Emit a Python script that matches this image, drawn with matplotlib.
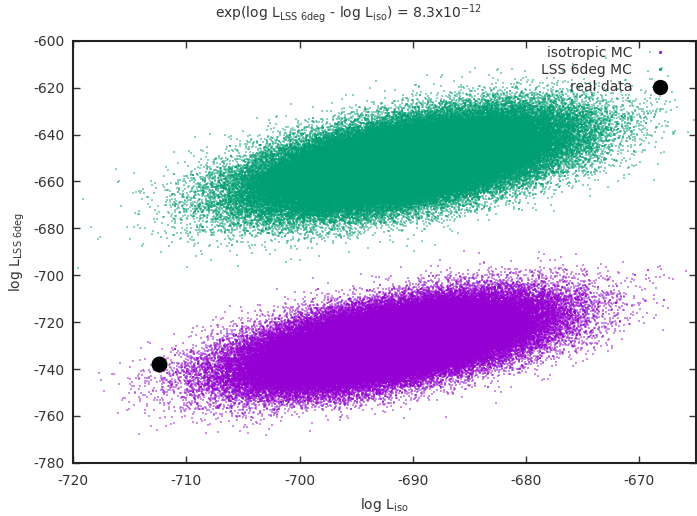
import matplotlib
matplotlib.use("Agg")
import matplotlib.pyplot as plt
from matplotlib.lines import Line2D
import numpy as np

# summary of the two Monte Carlo clouds
# (centre x, centre y, sd x, sd y, correlation, number of draws)
iso_mc = {"cx": -692.0, "cy": -729.0, "sx": 6.3, "sy": 9.2, "rho": 0.56, "n": 150000}
lss_mc = {"cx": -690.5, "cy": -652.0, "sx": 6.5, "sy": 10.0, "rho": 0.55, "n": 150000}

# the one real-data point
real_x = [-712.4]
real_y = [-737.8]

labels = ["isotropic MC", "LSS 6deg MC", "real data"]
colors = ["#9400d3", "#009e73", "black"]

xticks = [-720, -710, -700, -690, -680, -670]
yticks = list(range(-780, -599, 20))


def mc_cloud(p, seed):
    # MC sample drawn with the cloud's read-off mean and covariance
    rng = np.random.default_rng(seed)
    cov = [[p["sx"] ** 2, p["rho"] * p["sx"] * p["sy"]],
           [p["rho"] * p["sx"] * p["sy"], p["sy"] ** 2]]
    pts = rng.multivariate_normal([p["cx"], p["cy"]], cov, size=p["n"])
    return pts[:, 0], pts[:, 1]


plt.rcParams["font.family"] = "DejaVu Sans"
plt.rcParams["axes.unicode_minus"] = False
fig = plt.figure(figsize=(6.97, 5.16), dpi=100)
ax = fig.add_axes([0.105, 0.103, 0.893, 0.818])

ix, iy = mc_cloud(iso_mc, 1)
gx, gy = mc_cloud(lss_mc, 2)
ax.scatter(ix, iy, s=1.2, c=colors[0], marker="s", linewidths=0, alpha=0.45, rasterized=True)
ax.scatter(gx, gy, s=1.2, c=colors[1], marker="s", linewidths=0, alpha=0.45, rasterized=True)
ax.scatter(real_x, real_y, s=110, c=colors[2], zorder=5)

ax.set_xlim(-720, -665)
ax.set_ylim(-780, -600)
ax.set_xticks(xticks)
ax.set_yticks(yticks)
ax.tick_params(direction="in", top=True, right=True, length=5, width=1,
               labelsize=10, colors="#333333", pad=6)
ax.tick_params(axis="x", pad=8)
for sp in ax.spines.values():
    sp.set_linewidth(1.5)
    sp.set_color("#222222")

ax.set_xlabel(r"log L$_{\mathregular{iso}}$", fontsize=10, color="#333333", labelpad=6)
ax.set_ylabel(r"log L$_{\mathregular{LSS\ 6deg}}$", fontsize=10, color="#333333")
ax.yaxis.set_label_coords(-0.074, 0.5)
fig.suptitle(r"exp(log L$_{\mathregular{LSS\ 6deg}}$ - log L$_{\mathregular{iso}}$) = 8.3x10$^{\mathregular{-12}}$",
             fontsize=10, color="#333333", y=0.995)

handles = [Line2D([], [], ls="none", marker="s", ms=1, color=colors[0]),
           Line2D([], [], ls="none", marker="s", ms=1, color=colors[1]),
           Line2D([], [], ls="none", marker="o", ms=10, color=colors[2])]
leg = ax.legend(handles, labels, loc="upper right", markerfirst=False, frameon=False,
                fontsize=10, labelspacing=0.22, handletextpad=1.2, handlelength=1.6,
                bbox_to_anchor=(0.976, 1.01), borderaxespad=0.3)
for t in leg.get_texts():
    t.set_color("#333333")

fig.savefig("out.png", dpi=100)
